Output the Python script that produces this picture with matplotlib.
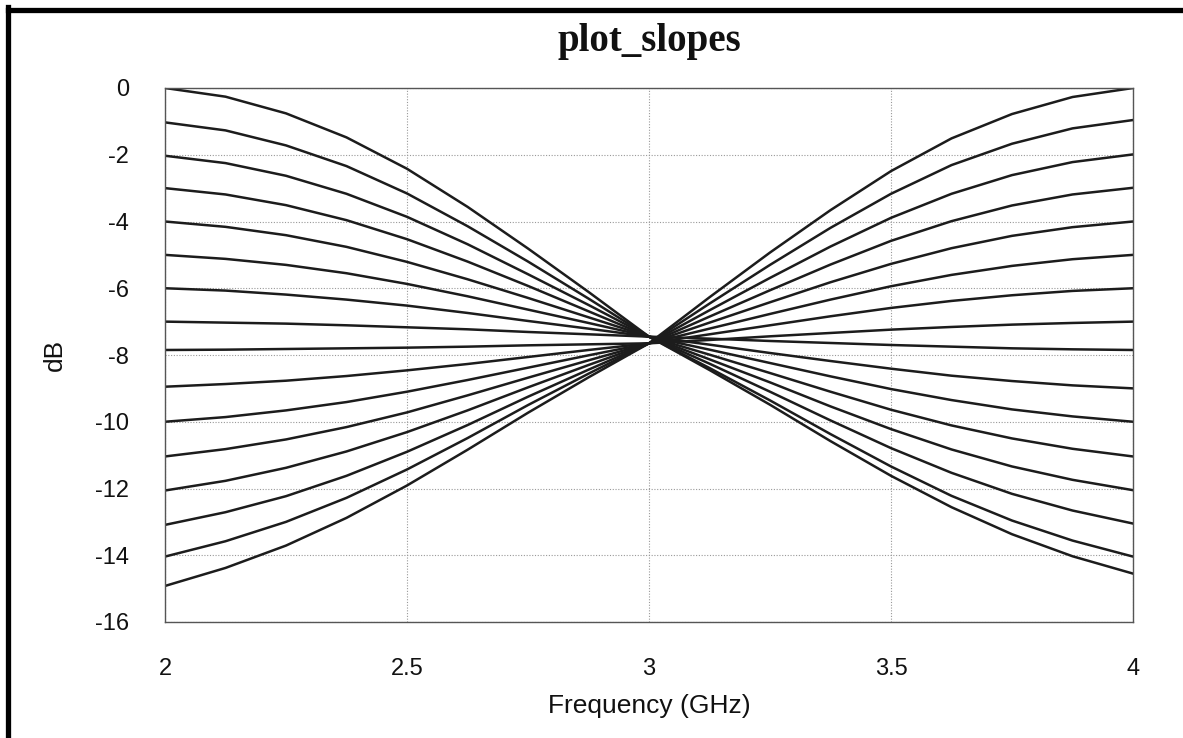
import numpy as np
import matplotlib
matplotlib.use("Agg")
import matplotlib.pyplot as plt
from matplotlib.lines import Line2D

# frequency points (GHz)
freq = [2.0, 2.125, 2.25, 2.375, 2.5, 2.625, 2.75, 2.875, 3.0,
        3.125, 3.25, 3.375, 3.5, 3.625, 3.75, 3.875, 4.0]

# one trace per slope setting (dB)
s0 = [0.0, -0.26, -0.76, -1.48, -2.42, -3.56, -4.81, -6.11, -7.45, -8.45, -9.49, -10.58, -11.62, -12.56, -13.37, -14.03, -14.55]
s1 = [-1.03, -1.27, -1.72, -2.34, -3.16, -4.14, -5.20, -6.31, -7.45, -8.39, -9.36, -10.37, -11.34, -12.22, -12.96, -13.56, -14.04]
s2 = [-2.03, -2.25, -2.63, -3.17, -3.86, -4.68, -5.58, -6.50, -7.45, -8.26, -9.10, -9.96, -10.79, -11.53, -12.16, -12.66, -13.05]
s3 = [-3.00, -3.19, -3.51, -3.96, -4.53, -5.20, -5.93, -6.69, -7.45, -8.13, -8.82, -9.54, -10.22, -10.83, -11.34, -11.74, -12.05]
s4 = [-4.00, -4.16, -4.41, -4.76, -5.21, -5.73, -6.29, -6.87, -7.45, -7.99, -8.54, -9.10, -9.64, -10.11, -10.50, -10.81, -11.04]
s5 = [-5.00, -5.12, -5.30, -5.55, -5.87, -6.24, -6.64, -7.04, -7.45, -7.84, -8.24, -8.64, -9.02, -9.35, -9.63, -9.84, -10.00]
s6 = [-6.00, -6.07, -6.19, -6.34, -6.52, -6.74, -6.98, -7.21, -7.45, -7.69, -7.94, -8.18, -8.41, -8.62, -8.78, -8.91, -9.00]
s7 = [-7.00, -7.03, -7.06, -7.11, -7.17, -7.23, -7.31, -7.38, -7.45, -7.51, -7.58, -7.64, -7.70, -7.75, -7.80, -7.83, -7.85]
s8 = [-7.85, -7.84, -7.82, -7.80, -7.78, -7.75, -7.71, -7.68, -7.65, -7.55, -7.44, -7.34, -7.24, -7.16, -7.09, -7.04, -7.00]
s9 = [-8.95, -8.87, -8.77, -8.63, -8.46, -8.27, -8.06, -7.85, -7.65, -7.38, -7.11, -6.84, -6.59, -6.38, -6.21, -6.08, -6.00]
s10 = [-10.00, -9.86, -9.66, -9.41, -9.10, -8.75, -8.38, -8.01, -7.65, -7.21, -6.77, -6.34, -5.94, -5.60, -5.33, -5.13, -5.00]
s11 = [-11.04, -10.82, -10.53, -10.16, -9.72, -9.21, -8.68, -8.16, -7.65, -7.03, -6.42, -5.82, -5.27, -4.80, -4.43, -4.17, -4.00]
s12 = [-12.06, -11.77, -11.38, -10.89, -10.31, -9.66, -8.97, -8.30, -7.65, -6.85, -6.06, -5.29, -4.58, -3.99, -3.52, -3.19, -2.99]
s13 = [-13.09, -12.71, -12.23, -11.62, -10.90, -10.10, -9.25, -8.44, -7.65, -6.66, -5.69, -4.75, -3.89, -3.17, -2.61, -2.22, -1.99]
s14 = [-14.04, -13.58, -13.00, -12.28, -11.43, -10.49, -9.50, -8.56, -7.65, -6.46, -5.30, -4.19, -3.17, -2.31, -1.67, -1.21, -0.96]
s15 = [-14.92, -14.38, -13.71, -12.88, -11.91, -10.84, -9.73, -8.67, -7.65, -6.27, -4.93, -3.66, -2.49, -1.51, -0.78, -0.27, 0.00]

traces = [s0, s1, s2, s3, s4, s5, s6, s7, s8, s9, s10, s11, s12, s13, s14, s15]

xticks = [2, 2.5, 3, 3.5, 4]
xticklabels = ["2", "2.5", "3", "3.5", "4"]
yticks = [0, -2, -4, -6, -8, -10, -12, -14, -16]

fig = plt.figure(figsize=(11.83, 7.38), dpi=100)
ax = fig.add_axes([165/1183, 1 - 622/738, (1133 - 165)/1183, (622 - 88)/738])

for tr in traces:
    ax.plot(freq, tr, color="#1c1c1c", lw=1.8)

ax.set_xlim(2, 4)
ax.set_ylim(-16, 0)
ax.set_xticks(xticks)
ax.set_xticklabels(xticklabels)
ax.set_yticks(yticks)
ax.set_yticklabels([str(v) for v in yticks])
ax.tick_params(length=0, labelsize=17, colors="#111")
ax.tick_params(axis="y", pad=26)
ax.tick_params(axis="x", pad=26)
for lab in ax.get_xticklabels() + ax.get_yticklabels():
    lab.set_fontfamily("Liberation Sans")

ax.grid(True, color="#999999", linestyle=(0, (1, 1.5)), linewidth=0.8)
for sp in ax.spines.values():
    sp.set_color("#555555")
    sp.set_linewidth(1.0)

fig.text(649/1183, 1 - 41/738, "plot_slopes", fontfamily="Liberation Serif",
         fontweight="bold", fontsize=28, ha="center", va="center", color="#111")
ax.set_xlabel("Frequency (GHz)", fontfamily="Liberation Sans", fontsize=19,
              labelpad=10, color="#111")
ax.set_ylabel("dB", fontfamily="Liberation Sans", fontsize=19, labelpad=20,
              color="#111")

# thick outer frame (only top and left edges show in the crop)
fig.add_artist(Line2D([7.5/1183, 7.5/1183], [0, 1 - 7/738], transform=fig.transFigure,
                      color="black", lw=3.8, solid_capstyle="projecting"))
fig.add_artist(Line2D([7.5/1183, 1], [1 - 9.5/738, 1 - 9.5/738], transform=fig.transFigure,
                      color="black", lw=3.8, solid_capstyle="projecting"))

fig.savefig("out.png", dpi=100)
